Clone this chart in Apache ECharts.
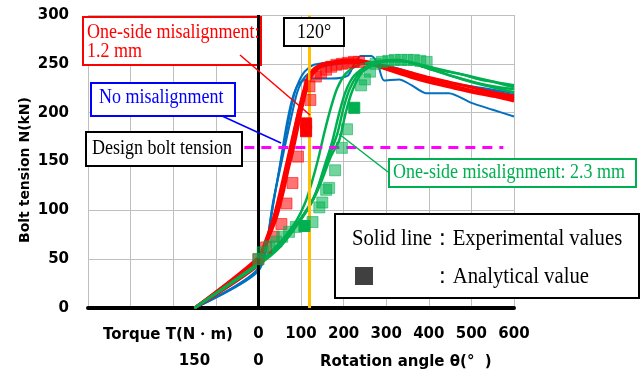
<!DOCTYPE html>
<html><head><meta charset="utf-8">
<script src="https://cdn.jsdelivr.net/npm/echarts@6/dist/echarts.min.js"></script>
<style>html,body{margin:0;padding:0;background:#fff}#c{width:644px;height:371px}</style>
</head><body><div id="c"></div>
<script>
// ---- axes ----
const xMin = -400, xMax = 600, xStep = 100;
const yMin = 0, yMax = 300, yStep = 50;
const torqueTickLabels = { '-150': '150', '0': '0' };
const designTension = 165;
const designLineFrom = -33, designLineTo = 575;
const markAngle = 120;

// ---- experimental curves: [rotation angle, bolt tension] ----
const noMis1 = [[-150,0],[0,38],[30,95],[50,145],[65,185],[80,215],[95,230],[120,235],[170,235],[210,238],[225,250],[240,258],[265,258],[280,250],[295,233],[330,234],[360,228],[393,220],[447,220],[500,210],[550,203],[600,196]];
const noMis2 = [[-150,0],[0,40],[35,110],[55,155],[70,190],[85,220],[105,240],[130,249],[180,252],[230,253],[280,250],[330,245],[380,238],[430,232],[480,228],[530,224],[600,218]];
const noMis3 = [[-150,0],[0,41],[40,120],[62,165],[77,195],[92,222],[110,237],[140,246],[190,250],[240,252],[290,248],[340,243],[400,236],[460,230],[530,225],[600,220]];

const mis12_1 = [[-150,0],[0,47],[15,65],[35,88],[50,112],[63,138],[75,160],[88,185],[100,208],[110,225],[122,240],[140,247],[170,251],[210,253],[250,252],[300,246],[350,240],[400,234],[450,228],[500,222],[550,218],[600,214]];
const mis12_2 = [[-150,0],[0,50],[20,68],[42,92],[58,118],[70,142],[82,163],[95,190],[106,212],[116,228],[128,240],[150,248],[180,251],[220,252],[260,250],[310,243],[360,236],[410,230],[460,225],[510,220],[560,216],[600,212]];
const mis12_3 = [[-150,0],[0,44],[12,60],[30,82],[45,108],[58,132],[70,155],[83,180],[95,203],[106,222],[118,238],[135,246],[165,250],[200,252],[250,251],[300,247],[350,242],[400,236],[450,231],[500,226],[550,221],[600,217]];
const mis12_4 = [[-150,0],[0,52],[18,70],[38,95],[55,122],[68,148],[80,172],[92,196],[103,215],[113,230],[125,242],[145,249],[175,252],[215,254],[260,252],[310,245],[360,238],[410,232],[460,227],[510,222],[560,218],[600,215]];

const mis23_1 = [[-150,0],[0,46],[30,58],[60,72],[90,90],[110,108],[125,128],[140,152],[155,180],[170,205],[185,225],[205,240],[230,248],[270,252],[320,254],[370,250],[420,244],[470,240],[520,234],[560,231],[600,228]];
const mis23_2 = [[-150,0],[0,45],[40,60],[80,80],[110,98],[135,118],[155,145],[173,170],[190,200],[205,222],[225,238],[255,248],[300,253],[350,252],[400,245],[450,238],[500,232],[550,227],[600,224]];
const mis23_3 = [[-150,0],[0,44],[50,62],[96,88],[125,108],[150,135],[170,160],[185,178],[200,205],[215,225],[240,242],[280,252],[330,254],[380,248],[430,241],[480,234],[530,228],[600,221]];
const mis23_4 = [[-150,0],[0,45],[50,65],[100,92],[130,112],[150,132],[170,155],[190,172],[205,200],[220,222],[245,242],[290,252],[340,253],[390,248],[440,243],[490,238],[540,233],[600,226]];

// ---- analytical values ----
const redSquares = [[0,50],[18,62],[36,73],[54,86],[66,107],[80,128],[93,155],[122,213],[120,227],[135,237],[147,241],[159,244],[171,247],[183,249],[196,250],[210,251],[224,252],[236,252]];
const redSquaresSolid = [[112,181],[112,189]];
const greenSquares = [[0,50],[10,57],[26,63],[42,68],[56,73],[72,78],[88,83],[127,88],[143,103],[150,108],[159,121],[166,123],[180,141],[196,164],[208,183],[241,228],[250,234],[262,242],[275,250],[290,252],[305,253],[320,254],[335,254],[350,254],[365,254],[380,253],[395,252]];
const greenSquaresSolid = [[108,84],[225,205]];

const BLUE = '#0070C0', RED = '#FF0000', GREEN = '#00B050';
const sansBold = { fontFamily: 'DejaVu Sans', fontWeight: 'bold', fontSize: 15, color: '#000' };

function lineSeries(data, color, width) {
  return { type: 'line', data: data, symbol: 'none', smooth: 0.25, z: 2,
    lineStyle: { color: color, width: width }, silent: true };
}
function squareSeries(data, color, opacity) {
  return { type: 'scatter', data: data, symbol: 'rect', symbolSize: 11, z: 5,
    itemStyle: { color: color, opacity: opacity, borderColor: color, borderWidth: 1 }, silent: true };
}

const chart = echarts.init(document.getElementById('c'), null, { renderer: 'canvas' });

const serif = '"Liberation Serif", "Times New Roman", serif';
function label(text, x, y, color, size, sx) {
  return { type: 'text', x: x, y: y, scaleX: sx || 0.9, z: 11,
    style: { text: text, font: (size || 20) + 'px ' + serif, fill: color, textAlign: 'left', textVerticalAlign: 'middle' } };
}
function box(x, y, w, h, color, z) {
  return { type: 'rect', z: z || 10, shape: { x: x, y: y, width: w, height: h },
    style: { fill: '#fff', stroke: color, lineWidth: 2 } };
}
function lead(x1, y1, x2, y2, color) {
  return { type: 'line', z: 11, shape: { x1: x1, y1: y1, x2: x2, y2: y2 }, style: { stroke: color, lineWidth: 1.5 } };
}

const option = {
  animation: false,
  backgroundColor: '#fff',
  grid: { left: 88, top: 15, right: 130, bottom: 63 },
  xAxis: [
    { type: 'value', min: xMin, max: xMax, interval: xStep,
      axisLine: { show: true, onZero: false, lineStyle: { color: '#000', width: 4 } },
      axisTick: { show: false },
      axisLabel: Object.assign({ margin: 19, formatter: v => (v >= 0 ? String(v) : '') }, sansBold),
      splitLine: { show: true, lineStyle: { color: '#BFBFBF', width: 1 } } },
    { type: 'value', min: xMin, max: xMax, interval: 50, position: 'bottom', offset: 27,
      axisLine: { show: false }, axisTick: { show: false }, splitLine: { show: false },
      axisLabel: Object.assign({ margin: 19, formatter: v => (torqueTickLabels[String(v)] || '') }, sansBold) }
  ],
  yAxis: { type: 'value', min: yMin, max: yMax, interval: yStep,
    axisLine: { show: false }, axisTick: { show: false },
    axisLabel: Object.assign({ margin: 19 }, sansBold),
    splitLine: { show: true, lineStyle: { color: '#BFBFBF', width: 1 } } },
  series: [
    lineSeries(noMis1, BLUE, 2), lineSeries(noMis2, BLUE, 2), lineSeries(noMis3, BLUE, 2),
    lineSeries(mis12_1, RED, 3), lineSeries(mis12_2, RED, 3), lineSeries(mis12_3, RED, 3), lineSeries(mis12_4, RED, 3),
    lineSeries(mis23_1, GREEN, 2.5), lineSeries(mis23_2, GREEN, 2.5), lineSeries(mis23_3, GREEN, 2.5), lineSeries(mis23_4, GREEN, 2.5),
    { type: 'line', data: [], z: 3, silent: true,
      markLine: { silent: true, symbol: 'none', label: { show: false }, animation: false,
        data: [
          [{ coord: [designLineFrom, designTension] }, { coord: [designLineTo, designTension] , lineStyle: { color: '#FF00FF', width: 3, type: [10, 7] } }],
          { xAxis: markAngle, lineStyle: { color: '#FFC000', width: 3, type: 'solid' } },
          { xAxis: 0, lineStyle: { color: '#000', width: 3, type: 'solid' } }
        ] } },
    squareSeries(redSquares, RED, 0.55), squareSeries(greenSquares, GREEN, 0.55),
    squareSeries(redSquaresSolid, RED, 1), squareSeries(greenSquaresSolid, GREEN, 1)
  ],
  graphic: [
    // y axis name and x axis captions
    { type: 'text', x: 25, y: 170, rotation: Math.PI / 2, z: 11,
      style: { text: 'Bolt tension N(kN)', font: 'bold 14px "DejaVu Sans"', fill: '#000', textAlign: 'center', textVerticalAlign: 'middle' } },
    { type: 'text', x: 103, y: 335, z: 11,
      style: { text: 'Torque T(N・m)', font: 'bold 15px "DejaVu Sans"', fill: '#000', textAlign: 'left', textVerticalAlign: 'middle' } },
    { type: 'text', x: 320, y: 362, z: 11,
      style: { text: 'Rotation angle θ(°  )', font: 'bold 15px "DejaVu Sans"', fill: '#000', textAlign: 'left', textVerticalAlign: 'middle' } },
    // annotation boxes
    box(83, 17, 178, 48, RED, 1),
    label('One-side misalignment:', 87, 33, RED),
    label('1.2 mm', 87, 52, RED),
    lead(240, 55, 310, 115, RED),
    box(91, 83, 144, 33, '#0000FF'),
    label('No misalignment', 99, 98, '#0000FF'),
    lead(222, 116, 281, 143, '#0000FF'),
    box(86, 132, 156, 34, '#000'),
    label('Design bolt tension', 92, 149, '#000'),
    box(284, 18, 60, 28, '#000'),
    label('120°', 297, 33, '#000'),
    box(389, 159, 247, 28, GREEN),
    label('One-side misalignment: 2.3 mm', 393, 173, GREEN),
    lead(339, 134, 388, 172, GREEN),
    // legend box
    box(335, 214, 304, 84, '#000'),
    label('Solid line：Experimental values', 352, 239, '#000', 23),
    { type: 'rect', z: 11, shape: { x: 355, y: 267, width: 18, height: 18 }, style: { fill: '#404040' } },
    label('：Analytical value', 432, 277, '#000', 23)
  ]
};
chart.setOption(option);
</script>
</body></html>
